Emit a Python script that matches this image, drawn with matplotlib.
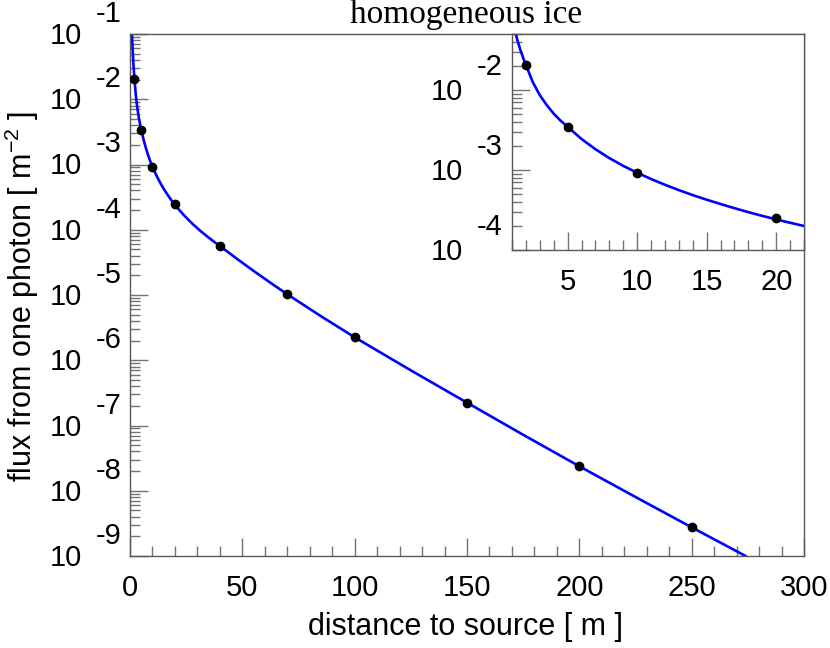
import numpy as np
import matplotlib.pyplot as plt
from matplotlib.ticker import MultipleLocator, LogLocator, NullFormatter

plt.rcParams['font.family'] = ['Liberation Sans', 'DejaVu Sans']
plt.rcParams['mathtext.default'] = 'regular'

# model curve
curve_r = [0.85, 1.0, 1.2, 1.4, 1.6, 1.8, 2.0, 2.5, 3.0, 3.5, 4.0, 4.5, 5.0,
           6.0, 7.0, 8.0, 9.0, 10.0, 11.0, 12.0, 13.0, 14.0, 15.0, 16.0, 17.0,
           18.0, 19.0, 20.0, 21.0, 22.0, 24.0, 26.0, 28.0, 31.0, 34.0, 37.0,
           40.0, 47.5, 55.0, 62.5, 70.0, 85.0, 100.0, 125.0, 150.0, 175.0,
           200.0, 225.0, 250.0, 274.0]
curve_flux = [1.096e-1, 7.96e-2, 5.57e-2, 4.12e-2, 3.17e-2, 2.52e-2, 2.05e-2,
              1.245e-2, 8.61e-3, 6.46e-3, 5.05e-3, 4.12e-3, 3.46e-3,
              2.44e-3, 1.816e-3, 1.406e-3, 1.125e-3, 9.23e-4, 7.71e-4, 6.53e-4,
              5.60e-4, 4.85e-4, 4.25e-4, 3.75e-4, 3.33e-4, 2.97e-4, 2.67e-4,
              2.41e-4, 2.19e-4, 1.995e-4, 1.671e-4, 1.419e-4, 1.216e-4, 9.82e-5,
              8.07e-5, 6.71e-5, 5.64e-5, 3.61e-5, 2.34e-5, 1.542e-5, 1.026e-5,
              4.73e-6, 2.25e-6, 7.0e-7, 2.24e-7, 7.21e-8, 2.37e-8, 8.02e-9,
              2.75e-9, 1.0e-9]

# simulated points
pts_r = [2, 5, 10, 20, 40, 70, 100, 150, 200, 250]
pts_flux = [2.05e-2, 3.42e-3, 9.25e-4, 2.52e-4, 5.63e-5, 1.03e-5, 2.25e-6,
            2.24e-7, 2.37e-8, 2.75e-9]

main_exps = [-1, -2, -3, -4, -5, -6, -7, -8, -9]
inset_exps = [-2, -3, -4]
main_xticks = [0, 50, 100, 150, 200, 250, 300]
inset_xticks = [5, 10, 15, 20]

W, H = 830, 648
fig = plt.figure(figsize=(W / 100, H / 100), dpi=100)


def setup(a, exps, lab_dx, exp_dx, exp_dy):
    a.set_yscale('log')
    a.yaxis.set_major_locator(LogLocator(base=10, numticks=20))
    a.yaxis.set_minor_locator(LogLocator(base=10, subs=np.arange(2, 10), numticks=20))
    a.yaxis.set_major_formatter(NullFormatter())
    a.yaxis.set_minor_formatter(NullFormatter())
    a.tick_params(which='both', direction='in', color='0.45', width=1,
                  top=False, right=False, labelsize=21, pad=13)
    a.tick_params(which='major', length=13)
    a.tick_params(which='minor', length=7)
    for s in a.spines.values():
        s.set_color('0.35')
        s.set_linewidth(1)
    # ROOT style labels: "10" with the exponent above it
    for k in exps:
        a.annotate('10', xy=(0, 10.0**k), xycoords=('axes fraction', 'data'),
                   xytext=(lab_dx, -2), textcoords='offset pixels',
                   ha='right', va='center', fontsize=21, annotation_clip=False)
        a.annotate(str(k), xy=(0, 10.0**k), xycoords=('axes fraction', 'data'),
                   xytext=(exp_dx, exp_dy), textcoords='offset pixels',
                   ha='left', va='center', fontsize=21, annotation_clip=False)


ax = fig.add_axes([130 / W, 92 / H, 674 / W, 522 / H])
ax.plot(curve_r, curve_flux, color='#0000ff', lw=1.9, zorder=2)
ax.plot(pts_r, pts_flux, 'o', color='black', ms=6, zorder=3)
setup(ax, main_exps, -48, -34, 20)
ax.set_xlim(0, 300)
ax.set_ylim(1e-9, 1e-1)
ax.set_xticks(main_xticks)
ax.xaxis.set_minor_locator(MultipleLocator(10))

ins = fig.add_axes([512 / W, 398 / H, 292 / W, 216 / H])
ins.plot(curve_r, curve_flux, color='#0000ff', lw=1.9, zorder=2)
ins.plot(pts_r, pts_flux, 'o', color='black', ms=6, zorder=3)
setup(ins, inset_exps, -49, -35, 23)
ins.set_xlim(1, 22)
ins.set_ylim(1e-4, 5e-2)
ins.set_xticks(inset_xticks)
ins.xaxis.set_minor_locator(MultipleLocator(1))

fig.text(465 / W, 1 - 627 / H, 'distance to source [ m ]', ha='center', va='center',
         fontsize=22)
fig.text(22 / W, 1 - 296 / H, 'flux from one photon [ m$^{-2}$ ]', rotation=90,
         ha='center', va='center', fontsize=22)
fig.text(466 / W, 1 - 23 / H, 'homogeneous ice', ha='center', va='baseline',
         fontsize=24, family='Liberation Serif')

fig.savefig('out.png', dpi=100)
